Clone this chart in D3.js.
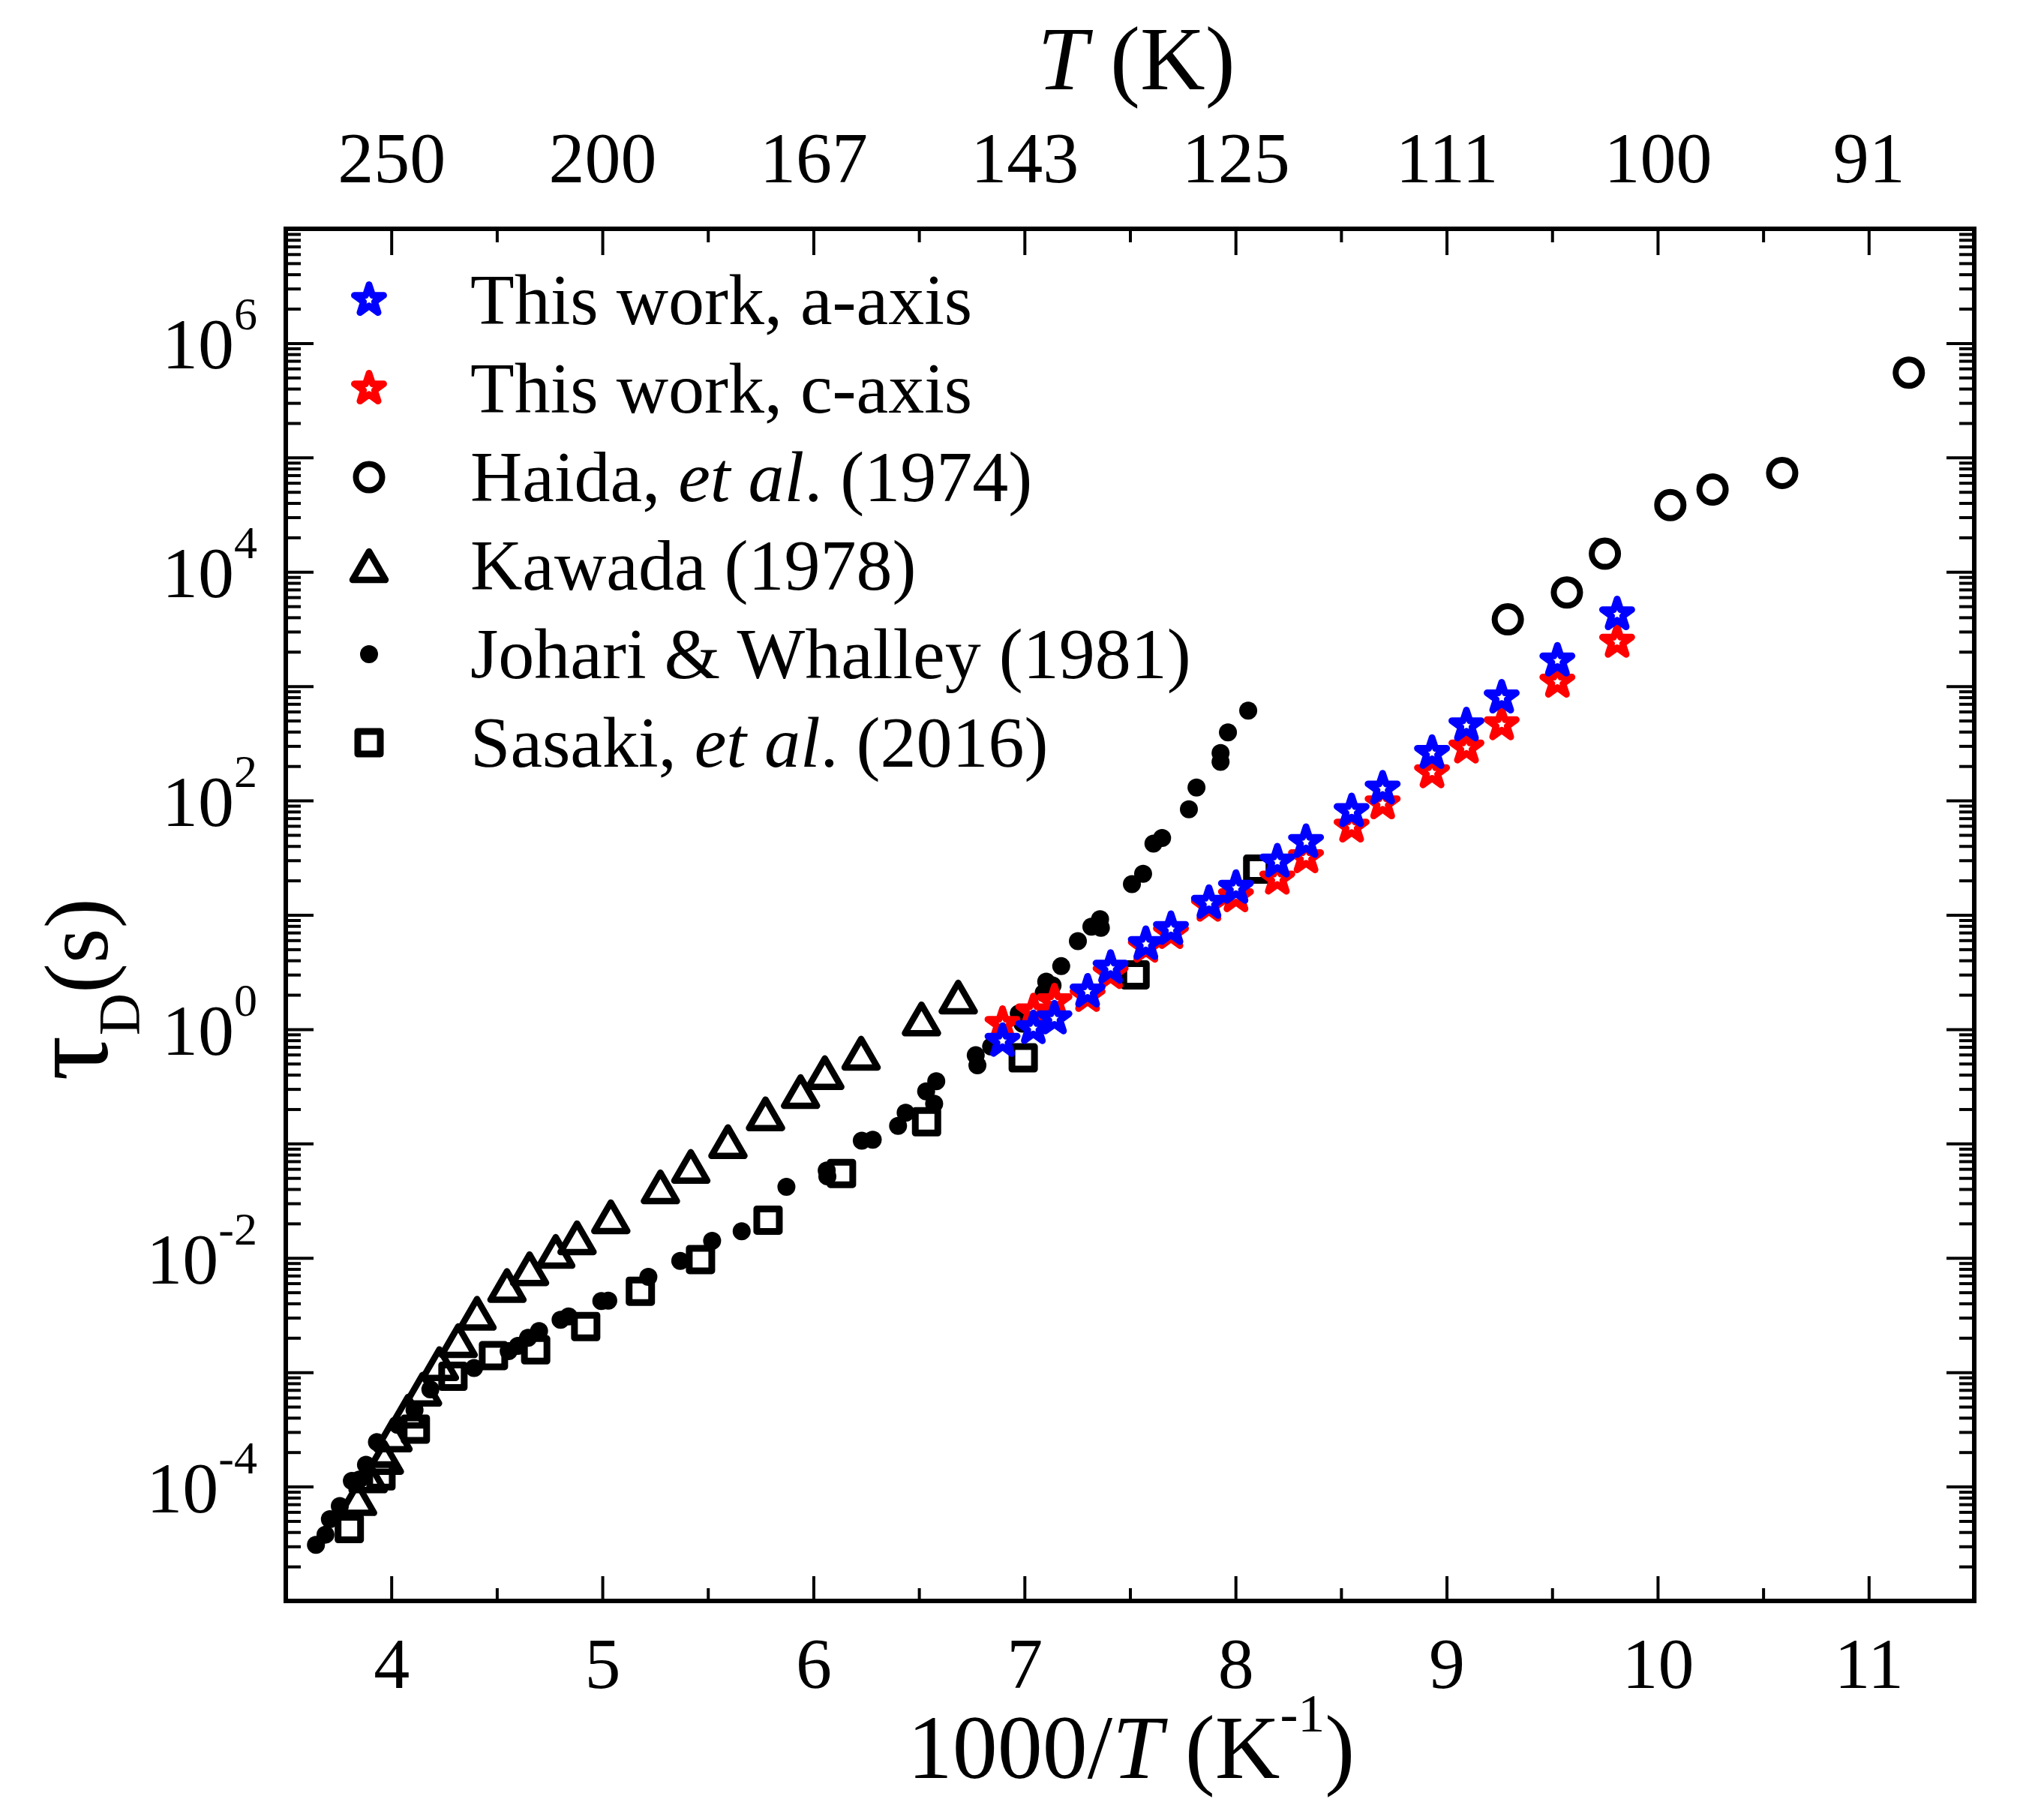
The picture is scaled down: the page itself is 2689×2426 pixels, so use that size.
<!DOCTYPE html>
<html>
<head>
<meta charset="utf-8">
<script src="https://cdn.jsdelivr.net/npm/d3@7"></script>
<style>
body { margin: 0; background: #fff; }
svg { display: block; }
</style>
</head>
<body>
<div id="chart"></div>
<script>
// Data (x = 1000/T in K^-1, tau in s)
var starX   = [6.896, 7.042, 7.142, 7.299, 7.408, 7.575, 7.694, 7.874, 8.002,
               8.198, 8.334, 8.550, 8.697, 8.931, 9.094, 9.261, 9.525, 9.808];
var tauA    = [0.789, 1.02, 1.24, 2.13, 3.44, 5.55, 7.50, 12.7, 17.2,
               29.2, 43.3, 80.5, 127, 260, 453, 794, 1671, 4246];
var tauC    = [1.11, 1.43, 1.75, 1.95, 3.09, 5.25, 6.92, 12.0, 14.5,
               20.7, 31.8, 59.0, 94.2, 176, 290, 463, 1091, 2438];

var haidaX   = [9.29, 9.57, 9.75, 10.06, 10.26, 10.59, 11.19];
var haidaTau = [3.84e3, 6.6e3, 1.44e4, 3.84e4, 5.25e4, 7.33e4, 5.52e5];

var kawadaX   = [3.840, 3.890, 3.967, 4.008, 4.079, 4.148, 4.228, 4.317, 4.406, 4.548, 4.655, 4.779,
                 4.880, 5.040, 5.275, 5.419, 5.595, 5.773, 5.939, 6.054, 6.226, 6.512, 6.686];
var kawadaTau = [7.85e-5, 1.24e-4, 1.80e-4, 2.83e-4, 4.57e-4, 7.11e-4, 1.19e-3, 1.89e-3, 3.28e-3, 5.73e-3, 8.04e-3, 1.14e-2,
                 1.50e-2, 2.29e-2, 4.18e-2, 6.31e-2, 0.104, 0.182, 0.285, 0.417, 0.617, 1.23, 1.91];

var johariX   = [3.643, 3.688, 3.709, 3.756, 3.813, 3.848, 3.880, 3.932, 4.03, 4.11, 4.185, 4.392,
                 4.556, 4.60, 4.648, 4.700, 4.802, 4.840, 4.995, 5.028, 5.218, 5.369, 5.520, 5.660,
                 5.872, 6.063, 6.066, 6.229, 6.281, 6.401, 6.437, 6.534, 6.572, 6.582, 6.769, 6.777,
                 6.842, 6.973, 6.99, 7.091, 7.103, 7.133, 7.174, 7.253, 7.317, 7.358, 7.362, 7.509,
                 7.562, 7.611, 7.652, 7.779, 7.815, 7.929, 7.929, 7.964, 8.060];
var johariTau = [3.09e-5, 3.80e-5, 5.19e-5, 6.76e-5, 1.12e-4, 1.15e-4, 1.55e-4, 2.45e-4, 3.47e-4, 4.68e-4, 7.08e-4, 1.09e-3,
                 1.53e-3, 1.70e-3, 2.00e-3, 2.29e-3, 2.88e-3, 3.08e-3, 4.20e-3, 4.22e-3, 6.84e-3, 9.40e-3, 1.41e-2, 1.71e-2,
                 4.19e-2, 5.82e-2, 5.16e-2, 0.106, 0.108, 0.143, 0.186, 0.286, 0.223, 0.351, 0.592, 0.484,
                 0.706, 1.37, 1.12, 2.08, 2.61, 2.42, 3.56, 5.90, 7.89, 9.18, 7.71, 18.6,
                 22.9, 42.0, 47.1, 83.9, 130, 218, 260, 395, 612];

var sasakiX   = [3.801, 3.951, 4.114, 4.292, 4.484, 4.684, 4.921, 5.180, 5.465, 5.785, 6.133, 6.536, 6.994, 7.524, 8.105];
var sasakiTau = [4.30e-5, 1.24e-4, 3.18e-4, 9.23e-4, 1.40e-3, 1.57e-3, 2.51e-3, 5.11e-3, 9.68e-3, 2.14e-2, 5.48e-2, 0.155, 0.562, 2.99, 25.1];

// Ticks and labels
var xTicks    = [4, 5, 6, 7, 8, 9, 10, 11];
var topLabels = ["250", "200", "167", "143", "125", "111", "100", "91"];
var yExponents = [-4, -2, 0, 2, 4, 6];

// Legend
var legendKinds = ["starA", "starC", "circle", "triangle", "dot", "square"];
var legendTexts = [
    [["This work, a-axis", false]],
    [["This work, c-axis", false]],
    [["Haida, ", false], ["et al", true], [". (1974)", false]],
    [["Kawada (1978)", false]],
    [["Johari & Whalley (1981)", false]],
    [["Sasaki, ", false], ["et al", true], [". (2016)", false]]
];

var chart_width  = 2689;
var chart_height = 2426;
var pLeft = 381, pRight = 2632, pTop = 305, pBottom = 2134;
var font = "'Liberation Serif', 'Times New Roman', serif";

// Scales
var x_scale = d3.scaleLinear().domain([3.5, 11.5]).range([pLeft, pRight]);
var y_scale = d3.scaleLog().domain([1e-5, 1e7]).range([pBottom, pTop]);

var svg = d3.select("#chart")
    .append("svg")
    .attr("width", chart_width)
    .attr("height", chart_height)
    .style("font-family", font);

// Axes (ticks point inward)
function tidy(g) {
    g.select(".domain").remove();
    g.selectAll(".tick line").attr("stroke", "#000").attr("stroke-width", 4);
    g.attr("font-family", font).attr("font-size", 96);
    g.selectAll(".tick text").attr("fill", "#000");
}

var xMinor = d3.range(4.5, 11.5, 1);
var decades = d3.range(-5, 8).map(function(k) { return Math.pow(10, k); });
var yMinor = y_scale.ticks(20).filter(function(v) {
    var l = Math.log10(v);
    return Math.abs(l - Math.round(l)) > 1e-6;
});

svg.append("g").attr("transform", "translate(0," + pBottom + ")")
    .call(d3.axisBottom(x_scale).tickValues(xTicks).tickSize(-33).tickPadding(48).tickFormat(d3.format("d")))
    .call(tidy);
svg.append("g").attr("transform", "translate(0," + pBottom + ")")
    .call(d3.axisBottom(x_scale).tickValues(xMinor).tickSize(-17).tickFormat(""))
    .call(tidy);

svg.append("g").attr("transform", "translate(0," + pTop + ")")
    .call(d3.axisTop(x_scale).tickValues(xTicks).tickSize(-35).tickPadding(62)
        .tickFormat(function(d, i) { return topLabels[i]; }))
    .call(tidy);
svg.append("g").attr("transform", "translate(0," + pTop + ")")
    .call(d3.axisTop(x_scale).tickValues(xMinor).tickSize(-18).tickFormat(""))
    .call(tidy);

svg.append("g").attr("transform", "translate(" + pLeft + ",0)")
    .call(d3.axisLeft(y_scale).tickValues(decades).tickSize(-37).tickFormat(""))
    .call(tidy);
svg.append("g").attr("transform", "translate(" + pLeft + ",0)")
    .call(d3.axisLeft(y_scale).tickValues(yMinor).tickSize(-20).tickFormat(""))
    .call(tidy);
svg.append("g").attr("transform", "translate(" + pRight + ",0)")
    .call(d3.axisRight(y_scale).tickValues(decades).tickSize(-37).tickFormat(""))
    .call(tidy);
svg.append("g").attr("transform", "translate(" + pRight + ",0)")
    .call(d3.axisRight(y_scale).tickValues(yMinor).tickSize(-20).tickFormat(""))
    .call(tidy);

// y tick labels 10^n
var ylab = svg.append("g").attr("font-size", 96).attr("text-anchor", "end");
yExponents.forEach(function(e) {
    var t = ylab.append("text")
        .attr("x", 343)
        .attr("y", y_scale(Math.pow(10, e)) + 34);
    t.append("tspan").text("10");
    t.append("tspan").attr("font-size", 62).attr("dy", -52).text(e);
});

// frame
svg.append("rect")
    .attr("x", pLeft).attr("y", pTop)
    .attr("width", pRight - pLeft).attr("height", pBottom - pTop)
    .attr("fill", "none").attr("stroke", "#000").attr("stroke-width", 6);

// Axis titles
var xt = svg.append("text").attr("x", 1508).attr("y", 2370)
    .attr("text-anchor", "middle").attr("font-size", 120);
xt.append("tspan").text("1000/");
xt.append("tspan").attr("font-style", "italic").text("T");
xt.append("tspan").text(" (K");
xt.append("tspan").attr("font-size", 72).attr("dy", -62).text("-1");
xt.append("tspan").attr("dy", 62).text(")");

var tt = svg.append("text").attr("x", 1515).attr("y", 119)
    .attr("text-anchor", "middle").attr("font-size", 120);
tt.append("tspan").attr("font-style", "italic").text("T");
tt.append("tspan").text(" (K)");

var yt = svg.append("text")
    .attr("transform", "translate(143,1319) rotate(-90)")
    .attr("text-anchor", "middle").attr("font-size", 120);
yt.append("tspan").attr("font-size", 150).text("τ");
yt.append("tspan").attr("font-size", 78).attr("dy", 42).text("D");
yt.append("tspan").attr("dy", -42).text("(s)");

// Markers
var starPath = d3.symbol(d3.symbolStar, 470)();
var squarePath = d3.symbol(d3.symbolSquare, 900)();
var triPath = "M0,-19L22,19L-22,19Z";

function draw(g, kind, pts) {
    var sel = g.selectAll(null).data(pts);
    if (kind === "dot") {
        sel.join("circle")
            .attr("cx", function(d) { return d[0]; })
            .attr("cy", function(d) { return d[1]; })
            .attr("r", 12).attr("fill", "#000");
    } else if (kind === "circle") {
        sel.join("circle")
            .attr("cx", function(d) { return d[0]; })
            .attr("cy", function(d) { return d[1]; })
            .attr("r", 17.5).attr("fill", "none")
            .attr("stroke", "#000").attr("stroke-width", 8);
    } else {
        var p = kind === "square" ? squarePath : kind === "triangle" ? triPath : starPath;
        var col = kind === "starA" ? "#0000ff" : kind === "starC" ? "#ff0000" : "#000";
        var sw = kind === "triangle" ? 8.5 : 9;
        sel.join("path")
            .attr("d", p)
            .attr("transform", function(d) { return "translate(" + d[0] + "," + d[1] + ")"; })
            .attr("fill", kind.indexOf("star") === 0 ? "#fff" : "none")
            .attr("stroke", col).attr("stroke-width", sw)
            .attr("stroke-linejoin", "round");
    }
}

function pts(xs, ts) {
    return xs.map(function(v, i) { return [x_scale(v), y_scale(ts[i])]; });
}

var plot = svg.append("g");
draw(plot.append("g"), "dot", pts(johariX, johariTau));
draw(plot.append("g"), "square", pts(sasakiX, sasakiTau));
draw(plot.append("g"), "triangle", pts(kawadaX, kawadaTau));
draw(plot.append("g"), "circle", pts(haidaX, haidaTau));
draw(plot.append("g"), "starC", pts(starX, tauC));
draw(plot.append("g"), "starA", pts(starX, tauA));

// Legend
var legend = svg.append("g");
legendKinds.forEach(function(k, i) {
    var cy = 400 + i * 118;
    draw(legend.append("g"), k, [[492, cy]]);
    var t = legend.append("text").attr("x", 627).attr("y", cy + 32).attr("font-size", 96);
    legendTexts[i].forEach(function(s) {
        t.append("tspan").attr("font-style", s[1] ? "italic" : "normal").text(s[0]);
    });
});
</script>
</body>
</html>
